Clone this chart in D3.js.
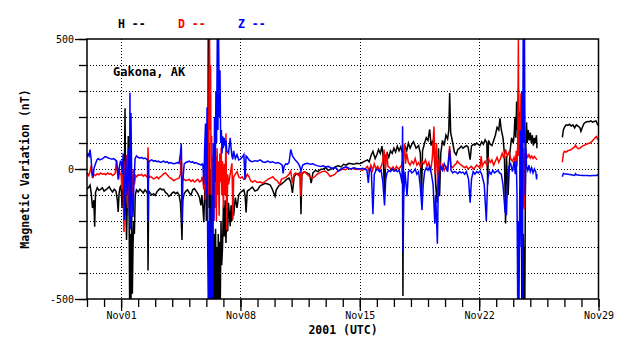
<!DOCTYPE html>
<html><head><meta charset="utf-8">
<script src="https://cdn.jsdelivr.net/npm/d3@7"></script>
<style>body{margin:0;background:#fff}svg{display:block}</style>
</head><body>
<svg id="c" width="638" height="359"></svg>
<script>
// ---- data (day offset from 2001-10-30 00:00 UTC, nT) ----
const startDay = [2001, 9, 30];
const endDay = [2001, 10, 29];
const yMinorTicks = [-500,-400,-300,-200,-100,0,100,200,300,400,500];
const yMajorTicks = [-500,0,500];
const xMajorLabels = ["Nov01","Nov08","Nov15","Nov22","Nov29"];
const seriesNames = ["H","D","Z"];
const stationName = "Gakona, AK";

const hSeries = [[0.00,-78],[0.10,-70],[0.18,-62],[0.25,-95],[0.32,-150],[0.40,-120],[0.45,-222],[0.50,-90],[0.60,-72],[0.70,-82],[0.80,-78],[0.90,-72],[1.00,-85],[1.10,-80],[1.20,-75],[1.30,-68],[1.40,-80],[1.50,-88],[1.60,-78],[1.70,-85],[1.78,-120],[1.83,-165],[1.88,-95],[1.94,-70],
[2.00,-62],[2.06,-150],[2.12,40],[2.18,-100],[2.23,234],[2.27,-130],[2.32,-273],[2.37,-110],[2.42,127],[2.46,-60],[2.50,-500],[2.54,-250],[2.58,-500],[2.62,-160],[2.66,-480],[2.70,-292],[2.74,-200],[2.78,-250],[2.83,-100],[2.90,-80],[3.00,-88],
[3.10,-78],[3.20,-85],[3.30,-92],[3.40,-80],[3.50,-88],[3.55,-95],[3.58,-390],[3.62,-85],[3.70,-92],[3.80,-100],[3.90,-95],[4.00,-102],[4.10,-88],[4.20,-80],[4.30,-75],[4.40,-80],[4.50,-78],[4.60,-90],[4.70,-95],[4.80,-105],[4.90,-100],[5.00,-92],[5.10,-88],[5.20,-95],[5.30,-90],[5.40,-100],[5.48,-130],[5.53,-200],[5.57,-273],[5.62,-120],[5.70,-95],[5.80,-85],[5.90,-80],[6.00,-92],[6.10,-100],[6.20,-80],[6.30,-75],[6.40,-85],[6.50,-95],[6.60,-110],[6.68,-140],[6.74,-100],
[6.80,-150],[6.85,-205],[6.90,-100],[6.95,60],[7.00,-200],[7.05,165],[7.08,-150],[7.11,500],[7.14,-100],[7.17,100],[7.20,-400],[7.23,0],[7.26,-300],[7.30,-100],[7.34,-500],[7.38,-200],[7.42,-500],[7.46,-250],[7.50,-500],[7.54,-230],[7.58,-500],[7.62,-300],[7.66,-500],[7.70,-250],[7.74,-500],[7.78,-280],[7.82,-500],[7.86,-200],[7.90,-370],[7.95,-300],[8.00,-140],[8.05,-260],[8.10,-120],[8.15,-285],[8.20,-150],[8.25,-240],[8.30,-130],[8.40,-220],[8.45,-140],[8.50,-200],[8.55,-120],[8.60,-180],[8.70,-110],[8.80,-150],[8.90,-100],[9.00,-90],[9.10,-85],[9.20,-80],[9.27,-100],[9.33,-167],[9.40,-85],[9.50,-80],[9.60,-75],
[9.70,-70],[9.85,-85],[10.00,-80],[10.15,-65],[10.30,-60],[10.45,-55],[10.60,-58],[10.75,-62],[10.85,-75],[11.03,-105],[11.10,-80],[11.25,-65],[11.40,-58],[11.55,-50],[11.70,-40],[11.85,-35],[11.95,-50],[12.05,-92],[12.15,-30],[12.25,-20],[12.40,-18],[12.50,-25],[12.55,-174],[12.60,-20],[12.75,-10],[12.90,-15],[13.05,-20],[13.15,-54],[13.25,-15],[13.40,-5],[13.55,-10],[13.70,-2],[13.85,0],[14.00,5],[14.15,-5],[14.30,0],[14.45,3],[14.60,10],[14.75,12],[14.90,8],[15.05,18],[15.20,15],[15.35,22],[15.50,20],[15.65,18],[15.80,22],[16.00,20],
[16.15,25],[16.30,30],[16.45,35],[16.55,28],[16.65,50],[16.77,68],[16.90,40],[17.00,55],[17.10,75],[17.20,60],[17.30,88],[17.38,40],[17.45,-105],[17.52,50],[17.60,62],[17.70,45],[17.80,70],[17.90,60],[18.00,80],[18.10,65],[18.20,88],[18.30,70],[18.40,85],[18.50,60],[18.53,-488],[18.56,50],[18.65,90],[18.75,70],[18.85,100],[18.95,80],[19.05,95],[19.15,105],[19.30,80],[19.45,90],[19.55,60],[19.62,-105],[19.68,70],[19.80,100],[19.90,120],[20.00,110],[20.10,152],[20.18,90],[20.28,110],[20.38,40],[20.45,-60],[20.53,-130],[20.62,80],[20.68,-105],[20.75,60],[20.85,110],[20.95,90],[21.05,130],[21.15,115],[21.22,150],[21.27,292],[21.33,140],[21.45,100],[21.55,65],[21.65,55],[21.75,75],[21.85,80],[21.95,88],[22.05,80],[22.15,85],[22.25,90],[22.35,85],[22.47,36],[22.55,88],[22.65,95],[22.75,92],[22.85,100],[22.95,95],[23.05,90],[23.15,105],[23.25,95],[23.35,112],[23.45,100],[23.50,-60],[23.55,110],[23.65,95],[23.75,90],[23.85,110],[23.95,130],[24.05,160],[24.15,150],[24.22,195],[24.30,150],[24.40,120],[24.48,60],[24.55,-210],[24.60,50],[24.70,-100],[24.80,60],[24.90,120],[25.00,100],
[25.05,130],[25.10,200],[25.15,120],[25.20,260],[25.25,150],[25.30,310],[25.34,80],[25.38,220],[25.42,-50],[25.46,150],[25.50,-500],[25.53,-200],[25.56,-500],[25.59,-250],[25.62,-500],[25.65,-300],[25.68,-500],[25.71,-100],[25.74,100],[25.78,180],[25.82,100],[25.88,150],[25.94,110],[26.00,140],[26.06,100],[26.12,130],[26.18,90],[26.24,120],[26.30,100],[26.36,130],[26.39,80],
[27.00,null],
[27.88,122],[27.94,150],[28.00,160],[28.10,170],[28.20,168],[28.30,172],[28.40,165],[28.50,170],[28.60,158],[28.70,170],[28.80,165],[28.90,160],[28.97,145],[29.05,160],[29.15,175],[29.25,180],[29.35,183],[29.45,182],[29.55,185],[29.65,180],[29.75,183],[29.85,185],[29.92,175],[29.97,168]];

const dSeries = [[0.00,-15],[0.10,-25],[0.18,-10],[0.25,14],[0.32,-35],[0.40,-20],[0.50,-25],[0.60,-18],[0.70,-22],[0.80,-15],[0.90,-20],[1.00,-18],[1.10,-22],[1.20,-15],[1.30,-20],[1.40,-18],[1.50,-25],[1.60,-20],[1.66,-15],[1.72,33],[1.78,-10],[1.83,-40],[1.88,5],[1.94,-20],
[2.00,-20],[2.05,-80],[2.10,5],[2.17,-242],[2.22,30],[2.27,-100],[2.32,55],[2.38,-150],[2.43,60],[2.50,-120],[2.55,20],[2.62,-180],[2.70,0],[2.78,-60],[2.85,-25],[2.92,-30],[3.00,-22],
[3.10,-25],[3.20,-20],[3.30,-28],[3.40,-22],[3.50,-30],[3.55,-25],[3.58,84],[3.62,-35],[3.70,-28],[3.80,-32],[3.90,-38],[4.00,-35],[4.10,-30],[4.20,-38],[4.30,-30],[4.40,-25],[4.50,-18],[4.60,-15],[4.70,-22],[4.80,-30],[4.90,-35],[5.00,-40],[5.10,-45],[5.20,-40],[5.30,-38],[5.40,-35],[5.48,-20],[5.53,78],[5.57,-60],[5.62,-35],[5.70,-40],[5.80,-45],[5.90,-42],[6.00,-40],[6.10,-48],[6.20,-42],[6.30,-50],[6.40,-45],[6.50,-40],[6.60,-50],[6.70,-45],[6.76,-30],
[6.80,-45],[6.85,-80],[6.90,20],[6.95,-120],[7.00,80],[7.04,-60],[7.08,200],[7.12,-100],[7.16,340],[7.19,500],[7.22,150],[7.25,400],[7.28,-100],[7.31,127],[7.35,-310],[7.39,50],[7.43,-200],[7.47,100],[7.51,-150],[7.55,50],[7.59,-200],[7.63,80],[7.67,-100],[7.71,30],[7.75,-180],[7.79,60],[7.83,-50],[7.87,83],[7.91,-100],[7.95,30],[8.00,-150],[8.05,20],[8.10,-100],[8.15,137],[8.20,-236],[8.25,-20],[8.30,-60],[8.40,-20],[8.50,22],[8.56,-194],[8.60,-30],[8.70,-20],[8.80,-10],[8.90,-30],[9.00,-35],[9.10,-30],[9.20,-40],[9.30,-35],[9.40,-20],[9.50,-30],[9.60,-45],
[9.70,-50],[9.85,-45],[10.00,-52],[10.15,-50],[10.30,-54],[10.45,-48],[10.60,-40],[10.75,-35],[10.90,-30],[11.03,-40],[11.15,-45],[11.30,-60],[11.40,-40],[11.55,-35],[11.70,-30],[11.85,-20],[11.95,-8],[12.05,-54],[12.15,-20],[12.25,-15],[12.40,-25],[12.50,-10],[12.55,-105],[12.60,-15],[12.75,-10],[12.90,-20],[13.05,-28],[13.20,-35],[13.35,-30],[13.50,-20],[13.65,-15],[13.80,-10],[13.95,-8],[14.10,-15],[14.25,-28],[14.40,-25],[14.55,-20],[14.70,-8],[14.85,-5],[15.00,0],[15.15,-3],[15.30,3],[15.45,0],[15.60,3],[15.80,-2],[16.00,0],
[16.15,-5],[16.30,0],[16.45,10],[16.55,-10],[16.65,15],[16.75,-5],[16.85,20],[16.95,0],[17.05,10],[17.15,-5],[17.25,10],[17.35,30],[17.42,75],[17.50,0],[17.58,60],[17.65,10],[17.75,5],[17.85,0],[17.95,8],[18.05,-5],[18.15,10],[18.25,0],[18.35,5],[18.45,15],[18.55,36],[18.62,98],[18.68,20],[18.75,60],[18.85,25],[18.95,15],[19.05,30],[19.15,20],[19.25,40],[19.35,15],[19.45,25],[19.55,10],[19.65,30],[19.75,20],[19.85,35],[19.95,10],[20.05,25],[20.15,-10],[20.25,40],[20.35,163],[20.42,-20],[20.50,100],[20.58,-105],[20.65,40],[20.75,0],[20.85,15],[20.95,-5],[21.05,10],[21.15,0],[21.27,88],[21.35,10],[21.45,5],[21.55,15],[21.65,20],[21.72,30],[21.85,20],[21.95,15],[22.05,10],[22.15,5],[22.25,10],[22.35,0],[22.45,5],[22.55,10],[22.65,0],[22.75,5],[22.85,15],[22.95,10],[23.05,5],[23.12,50],[23.18,10],[23.25,20],[23.35,30],[23.45,15],[23.55,40],[23.65,25],[23.75,35],[23.85,15],[23.95,30],[24.05,45],[24.15,25],[24.25,40],[24.35,60],[24.45,40],[24.55,75],[24.65,50],[24.75,65],[24.85,40],[24.95,30],[25.05,45],
[25.12,20],[25.18,70],[25.22,10],[25.26,90],[25.30,500],[25.33,50],[25.37,200],[25.41,-50],[25.45,290],[25.49,-20],[25.53,150],[25.56,-147],[25.60,80],[25.64,-155],[25.68,60],[25.72,40],[25.78,58],[25.85,45],[25.92,55],[26.00,42],[26.08,50],[26.16,40],[26.24,48],[26.32,42],[26.39,35],
[27.00,null],
[27.88,26],[27.94,60],[28.00,68],[28.10,65],[28.20,70],[28.30,72],[28.40,75],[28.50,80],[28.60,85],[28.65,92],[28.70,85],[28.80,78],[28.90,80],[29.00,85],[29.10,90],[29.20,92],[29.30,95],[29.40,98],[29.50,100],[29.60,105],[29.70,112],[29.80,120],[29.88,125],[29.97,112]];

const zSeries = [[0.00,45],[0.06,58],[0.12,50],[0.18,75],[0.24,40],[0.30,-20],[0.36,-27],[0.42,5],[0.50,20],[0.58,35],[0.66,40],[0.76,35],[0.86,38],[0.96,42],[1.06,48],[1.16,45],[1.26,42],[1.36,40],[1.46,38],[1.56,40],[1.66,35],[1.74,30],[1.80,-10],[1.85,-40],[1.90,10],[1.96,30],
[2.00,30],[2.07,-20],[2.12,60],[2.20,-196],[2.27,50],[2.35,-100],[2.45,80],[2.49,-180],[2.52,293],[2.55,-232],[2.58,215],[2.63,-100],[2.70,-185],[2.75,-60],[2.82,40],[2.90,50],[3.00,45],
[3.10,42],[3.20,45],[3.30,40],[3.40,42],[3.50,38],[3.55,35],[3.58,-200],[3.62,25],[3.70,32],[3.80,35],[3.90,30],[4.00,32],[4.10,28],[4.20,30],[4.30,25],[4.40,28],[4.50,30],[4.60,25],[4.70,28],[4.80,22],[4.90,25],[5.00,22],[5.10,20],[5.20,22],[5.30,25],[5.40,22],[5.48,60],[5.53,98],[5.57,-210],[5.62,-50],[5.70,20],[5.80,25],[5.90,28],[6.00,30],[6.10,25],[6.20,28],[6.30,22],[6.40,25],[6.50,20],[6.60,18],[6.70,15],[6.76,20],
[6.80,15],[6.85,-60],[6.90,80],[6.95,175],[7.00,-100],[7.04,237],[7.08,-300],[7.11,-500],[7.14,-200],[7.17,-500],[7.20,-150],[7.23,-500],[7.26,-250],[7.29,-500],[7.32,-100],[7.36,-500],[7.40,100],[7.44,-200],[7.48,200],[7.52,-50],[7.56,300],[7.60,100],[7.64,500],[7.68,150],[7.72,500],[7.76,200],[7.80,380],[7.84,100],[7.88,150],[7.92,60],[7.96,126],[8.00,80],[8.05,120],[8.10,90],[8.15,110],[8.20,70],[8.30,60],[8.40,120],[8.45,80],[8.50,50],[8.55,37],[8.60,70],[8.70,40],[8.80,55],[8.90,35],[9.00,38],[9.10,45],[9.20,56],[9.27,-40],[9.33,50],[9.40,45],[9.50,35],[9.60,30],
[9.70,28],[9.85,32],[10.00,30],[10.15,35],[10.30,28],[10.45,25],[10.60,30],[10.75,25],[10.90,28],[11.05,22],[11.20,25],[11.35,20],[11.45,15],[11.50,-17],[11.56,10],[11.65,20],[11.75,18],[11.85,25],[11.95,75],[12.05,50],[12.20,35],[12.35,25],[12.48,10],[12.55,-8],[12.65,15],[12.80,20],[12.95,22],[13.10,18],[13.25,20],[13.40,15],[13.55,12],[13.70,10],[13.85,12],[14.00,8],[14.15,10],[14.30,5],[14.45,3],[14.60,5],[14.75,-8],[14.90,0],[15.05,5],[15.20,8],[15.35,3],[15.50,0],[15.65,5],[15.80,2],[16.00,0],
[16.15,3],[16.30,0],[16.42,-5],[16.50,-54],[16.58,5],[16.68,-10],[16.77,-174],[16.85,-20],[16.95,-5],[17.05,0],[17.15,-10],[17.25,-5],[17.35,-50],[17.45,-140],[17.52,-40],[17.60,-15],[17.70,-5],[17.80,-10],[17.90,0],[18.00,-8],[18.10,-5],[18.20,-10],[18.30,-5],[18.40,-25],[18.48,-54],[18.51,164],[18.54,-319],[18.58,-100],[18.65,-10],[18.77,-105],[18.85,-10],[18.95,-5],[19.05,-15],[19.15,-10],[19.25,0],[19.35,-20],[19.45,-10],[19.55,-70],[19.65,-158],[19.72,-60],[19.80,-10],[19.90,5],[20.00,-5],[20.10,10],[20.20,-20],[20.30,-60],[20.40,-210],[20.45,-100],[20.55,-287],[20.60,-80],[20.66,-10],[20.75,10],[20.85,-5],[20.95,20],[21.05,5],[21.15,-10],[21.22,40],[21.27,75],[21.35,-5],[21.45,-15],[21.55,-10],[21.65,-12],[21.75,-18],[21.85,-10],[21.95,-15],[22.05,-12],[22.15,-20],[22.25,-10],[22.38,-40],[22.47,-130],[22.55,-40],[22.65,-10],[22.75,-20],[22.85,-10],[22.95,-15],[23.05,-8],[23.15,-20],[23.30,-60],[23.42,-200],[23.50,-40],[23.60,-10],[23.70,-20],[23.80,-5],[23.90,-15],[24.00,-10],[24.10,-5],[24.20,-15],[24.30,-20],[24.40,-60],[24.52,-165],[24.60,-178],[24.67,-40],[24.75,10],[24.85,20],[24.95,-10],[25.05,30],
[25.12,-20],[25.18,30],[25.22,-100],[25.26,-500],[25.30,-200],[25.34,-500],[25.38,-100],[25.42,150],[25.46,-300],[25.50,300],[25.54,-500],[25.58,500],[25.62,100],[25.66,500],[25.70,-100],[25.74,80],[25.78,10],[25.85,-5],[25.92,15],[26.00,-10],[26.08,5],[26.16,-15],[26.24,0],[26.32,-10],[26.37,-40],[26.39,-20],
[27.00,null],
[27.88,-30],[27.94,-17],[28.00,-18],[28.20,-20],[28.40,-22],[28.60,-25],[28.65,-18],[28.70,-22],[28.90,-24],[29.10,-25],[29.30,-25],[29.50,-26],[29.70,-25],[29.90,-25],[29.97,-20]];

// ---- drawing ----
const svg = d3.select("#c");
const L = 87, R = 598.5, T = 39, B = 299;
const t0 = Date.UTC(...startDay), t1 = Date.UTC(...endDay);
const x = d3.scaleUtc().domain([new Date(t0), new Date(t1)]).range([L, R]);
const y = d3.scaleLinear().domain([-500, 500]).range([B, T]);
const toDate = d => new Date(t0 + d * 864e5);
const mono = "'DejaVu Sans Mono', 'Liberation Mono', monospace";

// grid
const gridY = yMinorTicks.filter(v => v > -500 && v < 500);
svg.append("g").selectAll("line").data(gridY).join("line")
  .attr("x1", L).attr("x2", R).attr("y1", d => Math.round(y(d)) + 0.5).attr("y2", d => Math.round(y(d)) + 0.5)
  .attr("stroke", "#000").attr("stroke-width", 1).attr("stroke-dasharray", "1,2");
const weekly = d3.utcDay.every(7).range(new Date(Date.UTC(2001,10,1)), new Date(t1));
svg.append("g").selectAll("line").data(weekly).join("line")
  .attr("y1", T).attr("y2", B).attr("x1", d => Math.round(x(d)) + 0.5).attr("x2", d => Math.round(x(d)) + 0.5)
  .attr("stroke", "#000").attr("stroke-width", 1).attr("stroke-dasharray", "1,2");

// series
svg.append("clipPath").attr("id", "clip").append("rect")
  .attr("x", L).attr("y", T).attr("width", R - L).attr("height", B - T);
const line = d3.line().defined(d => d[1] !== null)
  .x(d => x(toDate(d[0]))).y(d => y(d[1]));
const colors = {H: "#000000", D: "#ff0000", Z: "#0000ff"};
const all = {H: hSeries, D: dSeries, Z: zSeries};
const g = svg.append("g").attr("clip-path", "url(#clip)");
seriesNames.forEach(n => {
  g.append("path").datum(all[n]).attr("d", line)
   .attr("fill", "none").attr("stroke", colors[n]).attr("stroke-width", 1.5)
   .attr("stroke-linejoin", "miter");
});

// frame
svg.append("rect").attr("x", L).attr("y", T).attr("width", R - L).attr("height", B - T)
  .attr("fill", "none").attr("stroke", "#000").attr("stroke-width", 1.5);

// y axis
const yMinor = svg.append("g").attr("transform", `translate(${L},0)`)
  .call(d3.axisLeft(y).tickValues(yMinorTicks).tickSize(8).tickFormat(""));
const yMajor = svg.append("g").attr("transform", `translate(${L},0)`)
  .call(d3.axisLeft(y).tickValues(yMajorTicks).tickSize(12).tickPadding(1).tickFormat(d => String(d)));
[yMinor, yMajor].forEach(a => { a.select(".domain").remove(); a.selectAll("line").attr("stroke-width", 1.3); });
yMajor.selectAll("text").attr("font-family", mono).attr("font-size", 10).attr("fill", "#000");

// x axis
const days = d3.utcDay.range(new Date(t0), new Date(t1 + 1));
const xMinor = svg.append("g").attr("transform", `translate(0,${B})`)
  .call(d3.axisBottom(x).tickValues(days).tickSize(8).tickFormat(""));
const majorDates = weekly.concat([new Date(t1)]);
const xMajor = svg.append("g").attr("transform", `translate(0,${B})`)
  .call(d3.axisBottom(x).tickValues(majorDates).tickSize(12).tickPadding(1)
    .tickFormat((d, i) => xMajorLabels[i]));
[xMinor, xMajor].forEach(a => { a.select(".domain").remove(); a.selectAll("line").attr("stroke-width", 1.3); });
xMajor.selectAll("text").attr("font-family", mono).attr("font-size", 10).attr("fill", "#000");

// labels
svg.append("text").attr("x", 343).attr("y", 334).attr("text-anchor", "middle")
  .attr("font-family", mono).attr("font-size", 11.5).attr("font-weight", "bold").text("2001 (UTC)");
svg.append("text").attr("transform", "translate(29,169) rotate(-90)").attr("text-anchor", "middle")
  .attr("font-family", mono).attr("font-size", 11.5).attr("font-weight", "bold").text("Magnetic Variation (nT)");
svg.append("text").attr("x", 113).attr("y", 76)
  .attr("font-family", mono).attr("font-size", 12).attr("font-weight", "bold").text(stationName);
const legendX = [118, 178, 238];
seriesNames.forEach((n, i) => {
  svg.append("text").attr("x", legendX[i]).attr("y", 28)
    .attr("font-family", mono).attr("font-size", 11.5).attr("font-weight", "bold")
    .attr("fill", colors[n]).text(n + " --");
});
</script>
</body></html>
